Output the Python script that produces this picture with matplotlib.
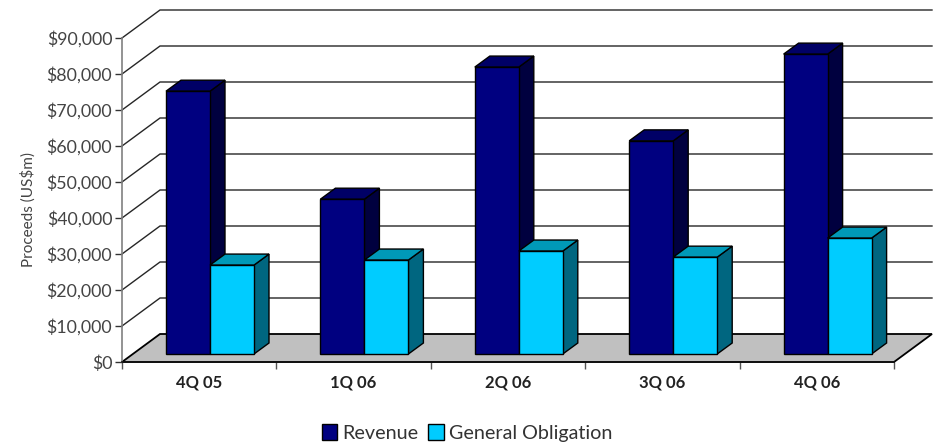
import matplotlib
matplotlib.use("Agg")
import matplotlib.pyplot as plt
from matplotlib.patches import Polygon, Patch

categories = ["4Q 05", "1Q 06", "2Q 06", "3Q 06", "4Q 06"]
revenue = [73000, 43000, 79700, 59200, 83300]
general_obligation = [24700, 26100, 28600, 26900, 32200]
y_ticks = list(range(0, 100000, 10000))

W, H = 936, 445
plt.rcParams['font.family'] = ['Lato', 'DejaVu Sans']
fig = plt.figure(figsize=(W / 100, H / 100), dpi=100)
L, R, T, B = 122, 894, 38, 362
ax = fig.add_axes([L / W, 1 - B / H, (R - L) / W, (B - T) / H])
ax.set_xlim(0, 5)
ax.set_ylim(0, 90000)
ax.patch.set_alpha(0)

px = 5 / (R - L)           # data x per pixel
py = 90000 / (B - T)       # data y per pixel
DX, DY = 38 * px, 28 * py  # wall depth
BX, BY = 15 * px, 11 * py  # bar depth
BASE = 8 * py              # bar base above the front axis line
BARW = 44 * px
OFF = 44 * px              # first bar inset from the category edge

def poly(pts, fc, ec='black', lw=1.0, z=3):
    ax.add_patch(Polygon(pts, closed=True, facecolor=fc, edgecolor=ec,
                         linewidth=lw, clip_on=False, zorder=z, joinstyle='miter'))

for v in y_ticks[1:]:
    ax.plot([0, DX, 5 + DX], [v, v + DY, v + DY], color='#262626', lw=1.0,
            clip_on=False, zorder=1, solid_joinstyle='miter')
poly([(0, 0), (5, 0), (5 + DX, DY), (DX, DY)], '#c0c0c0', lw=1.3, z=2)

def bar(x, v, front, top, side, z):
    b = BASE
    poly([(x + BARW, b), (x + BARW + BX, b + BY), (x + BARW + BX, b + v + BY), (x + BARW, b + v)], side, z=z)
    poly([(x, b + v), (x + BARW, b + v), (x + BARW + BX, b + v + BY), (x + BX, b + v + BY)], top, z=z)
    poly([(x, b), (x + BARW, b), (x + BARW, b + v), (x, b + v)], front, z=z + 0.1)

for i in range(len(categories)):
    x0 = i + OFF
    bar(x0, revenue[i], '#000080', '#000066', '#00003f', 3 + i * 0.01)
    bar(x0 + BARW, general_obligation[i], '#00ccff', '#0099b8', '#006680', 3.5 + i * 0.01)

for s in ('top', 'right'):
    ax.spines[s].set_visible(False)
ax.spines['left'].set_color('#808080')
ax.spines['left'].set_linewidth(1.2)
ax.spines['bottom'].set_color('#111111')
ax.spines['bottom'].set_linewidth(1.2)

ax.set_yticks(y_ticks)
ax.set_yticklabels([f"${v:,}" for v in y_ticks], fontsize=12.8, color='#444444')
ax.tick_params(axis='y', length=5, width=1, color='#333333', pad=2)
ax.set_xticks(range(6))
ax.set_xticklabels([''] * 6)
ax.tick_params(axis='x', which='major', length=5, width=1, color='#555555')
ax.set_xticks([i + 0.5 for i in range(5)], minor=True)
ax.set_xticklabels(categories, minor=True, fontsize=12, fontweight='bold', color='#222222')
ax.tick_params(axis='x', which='minor', length=0, pad=9)

ax.set_ylabel("Proceeds (US$m)", fontsize=11, color='#444444', labelpad=0)
ax.yaxis.set_label_coords(-(122 - 36) / (R - L), 0.47)

handles = [Patch(facecolor='#000080', edgecolor='black', label='Revenue'),
           Patch(facecolor='#00ccff', edgecolor='black', label='General Obligation')]
fig.legend(handles=handles, loc='center', bbox_to_anchor=(467 / W, 1 - 433 / H), ncol=2,
           frameon=False, fontsize=14.2, labelcolor='#333333', handlelength=0.8, handleheight=0.9,
           handletextpad=0.25, columnspacing=0.5, borderpad=0)
fig.savefig("out.png", dpi=100)
